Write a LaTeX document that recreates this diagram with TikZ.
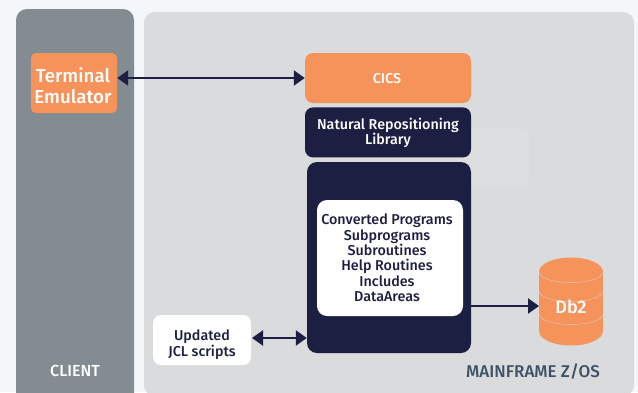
\documentclass[tikz,border=0pt]{standalone}
\usepackage{fontspec}
\setmainfont{Fira Sans}[BoldFont={Fira Sans Medium}]
\usepackage{tikz}
\usetikzlibrary{arrows.meta, positioning}
\definecolor{pagebg}{HTML}{F3F7F9}
\definecolor{clientgrey}{HTML}{828C91}
\definecolor{hostgrey}{HTML}{DADBDD}
\definecolor{ghostgrey}{HTML}{DDDEDF}
\definecolor{peach}{HTML}{F6935A}
\definecolor{navy}{HTML}{1C1F41}
\definecolor{slate}{HTML}{3D5266}
\definecolor{bandline}{HTML}{E0C0A8}

\begin{document}
\begin{tikzpicture}[x=1pt, y=-1pt]
      \tikzset{node distance=4pt, box/.style={rounded corners=8pt, inner sep=0pt},
        caption/.style={inner sep=0pt, align=center, font=\fontsize{14.3}{15.4}\selectfont\bfseries},
        panel/.style={rounded corners=11pt, inner sep=0pt}, biglink/.style={draw=navy, line width=2.2pt, {Triangle[length=11pt,width=15pt]}-{Triangle[length=11pt,width=15pt]}}, onelink/.style={draw=navy, line width=2.2pt, -{Triangle[length=11pt,width=15pt]}}}
      \clip (0,0) rectangle (638,392);
      \fill[pagebg] (0,0) rectangle (638,392);
      \node[panel, fill=clientgrey, minimum width=118pt, minimum height=400pt] (client) at (75,209) {};
      \node[panel, fill=hostgrey, minimum width=490pt, minimum height=384pt] (host) at (389,204) {};
      \node[box, fill=ghostgrey, minimum width=70pt, minimum height=59pt] (ghost) at (494,157.5) {};
      \node[box, fill=peach, rounded corners=5pt, minimum width=86pt, minimum height=60pt] (term) at (74,83) {};
      \node[box, fill=peach, minimum width=166pt, minimum height=50pt] (cics) at (388,78) {};
      \node[box, fill=navy, minimum width=166pt, minimum height=50pt, below=4pt of cics] (nrl) {};
      \node[box, fill=navy, rounded corners=10pt, minimum width=164pt, minimum height=191pt] (conv) at (389,257.5) {};
      \node[box, fill=white, rounded corners=10pt, minimum width=146pt, minimum height=116pt] (progs) at (390,258) {};
      \node[box, fill=white, minimum width=98pt, minimum height=50pt] (jcl) at (202,340) {};
      \fill[peach] (571,272) ellipse [x radius=32, y radius=14.5];
      \fill[peach] (539,272) rectangle (603,331);
      \fill[peach] (571,331) ellipse [x radius=32, y radius=14.5];
      \draw[bandline, line width=0.6pt] (539,272) .. controls (541,286) and (601,286) .. (603,272);
      \draw[bandline, line width=0.6pt] (539,291) .. controls (541,305) and (601,305) .. (603,291);
      \draw[bandline, line width=0.6pt] (539,314) .. controls (541,328) and (601,328) .. (603,314);
      \node[caption, text=white, font=\fontsize{18.7}{21}\selectfont\bfseries] (termtext) at (73,85.5) {Terminal\\Emulator};
      \node[caption, text=white] (cicstext) at (387,79) {CICS};
      \node[caption, text=white] (nrltext) at (388,133) {Natural Repositioning\\Library};
      \node[caption, text=navy] (progstext) at (387,258) {Converted Programs\\Subprograms\\Subroutines\\Help Routines\\Includes\\DataAreas};
      \node[caption, text=navy] (jcltext) at (202,344.5) {Updated\\JCL scripts};
      \node[caption, text=white, font=\fontsize{18}{21}\selectfont\bfseries] (dbtext) at (571,307) {Db2};
      \node[caption, text=white, font=\fontsize{16}{19}\selectfont\bfseries] (clienttext) at (75,371) {CLIENT};
      \node[caption, text=slate, font=\fontsize{17}{19}\selectfont\bfseries] (hosttext) at (533,372) {MAINFRAME Z/OS};
      \coordinate (dbport) at (539,306);
      \coordinate (jclport) at (252,338);
      \draw[biglink] (term.east |- cics.west) -- (cics.west);
      \draw[biglink] (jclport) -- (conv.west |- jclport);
      \draw[onelink] (conv.east |- dbport) -- (dbport);
    \end{tikzpicture}
\end{document}
